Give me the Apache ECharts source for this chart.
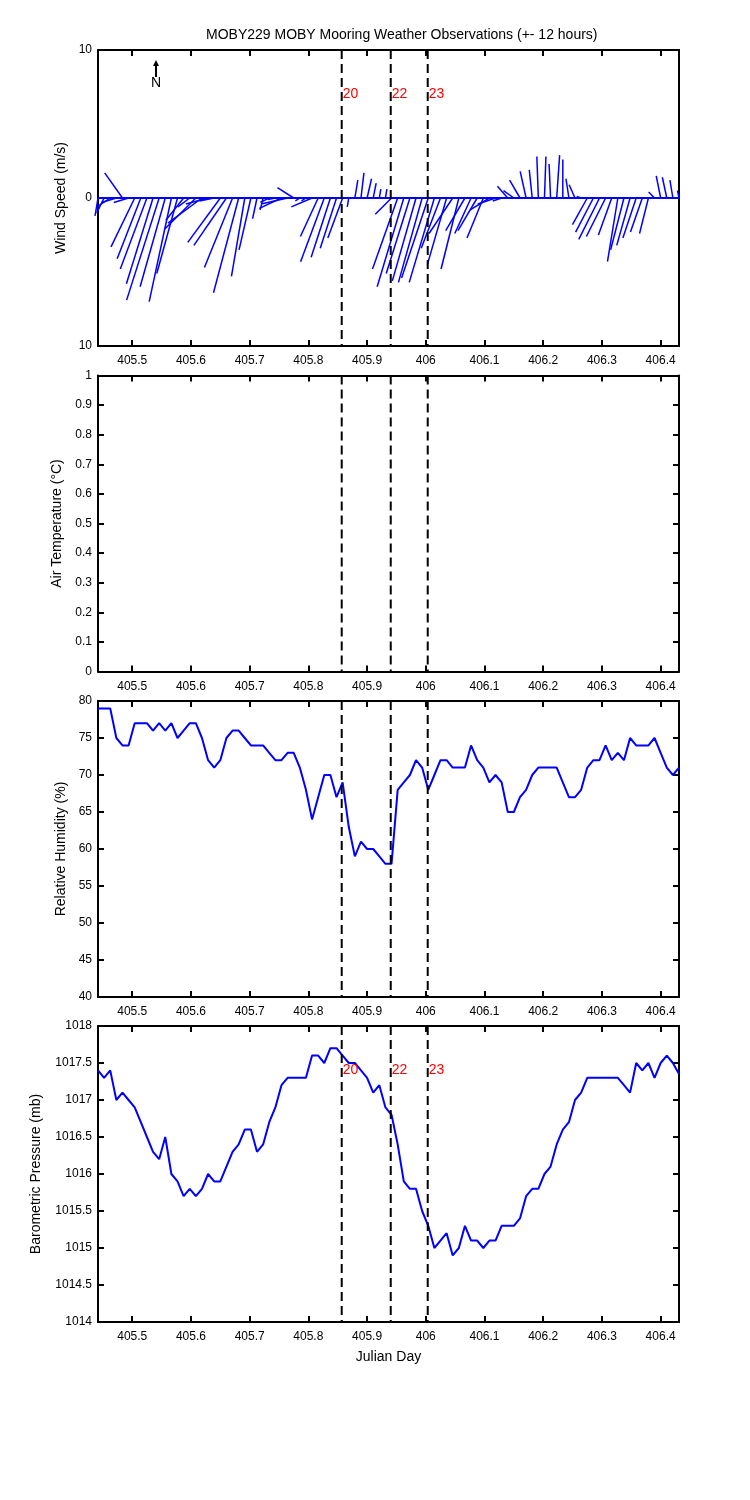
<!DOCTYPE html>
<html>
<head>
<meta charset="utf-8">
<title>MOBY229 weather</title>
<script src="https://cdn.jsdelivr.net/npm/echarts@6/dist/echarts.min.js"></script>
<style>
  html, body { margin: 0; padding: 0; background: #fff; }
  #main { width: 750px; height: 1500px; }
</style>
</head>
<body>
<div id="main"></div>
<script>
// sampling: every 15 minutes over +- 12 hours
const START_DAY = 405.4417
const STEP_DAYS = 1 / 96
const N_SAMPLES = 96

const X_TICKS = [405.5, 405.6, 405.7, 405.8, 405.9, 406, 406.1, 406.2, 406.3, 406.4]

// event markers (vertical dashed lines)
const EVENT_DAYS = [405.8568, 405.9403, 406.0033]
const EVENT_LABELS = ['20', '22', '23']

// wind components (m/s), east and north
const WIND_U = [
  -0.2, -0.5, -0.9, -1.0, -1.2, -1.0, -1.6, -1.6, -1.8, -1.8,
  -2.2, -1.7, -1.5, -1.4, -1.2, -0.8, -2.1, -2.3, -1.5, -1.0,
  -2.2, -2.2, -1.9, -1.7, -0.9, -0.8, -0.3, -0.2, -0.6, -0.5,
  -1.5, -1.8, -1.1, -0.3, -0.3, -1.4, -1.2, -1.6, -1.3, -1.1,
  -1.0, -0.1, 0.2, 0.2, 0.3, 0.2, 0.1, 0.1, -1.1, -1.7,
  -1.8, -1.6, -1.6, -1.6, -1.8, -1.7, -1.3, -1.3, -1.6, -1.2,
  -1.3, -1.1, -1.3, -1.1, -1.3, -1.2, -0.6, -0.7, -0.7, -0.7,
  -0.4, -0.2, -0.1, 0.1, -0.1, 0.2, 0.0, -0.2, -0.4, -0.3,
  -1.0, -1.2, -1.4, -1.3, -0.9, -0.7, -0.9, -0.9, -0.9, -0.8,
  -0.6, -0.4, -0.3, -0.3, -0.2, -0.1
]
const WIND_V = [
  -1.2, -1.0, -0.6, -0.3, 1.7, -0.3, -3.3, -4.1, -4.8, -5.8,
  -6.9, -6.0, -7.0, -5.1, -1.5, -0.6, -2.1, -1.7, -0.4, -0.2,
  -3.0, -3.2, -4.7, -6.4, -5.3, -3.5, -1.4, -0.8, -0.3, -0.1,
  -0.7, -0.4, 0.7, -0.2, -0.2, -0.6, -2.6, -4.3, -4.0, -3.4,
  -2.7, -0.6, 1.2, 1.7, 1.3, 1.0, 0.6, 0.6, -1.1, -4.8,
  -6.0, -5.1, -5.6, -5.7, -5.4, -5.7, -3.4, -4.5, -2.4, -4.8,
  -2.2, -2.4, -2.2, -2.7, -0.8, -0.4, -0.2, 0.8, 0.5, 1.2,
  1.8, 1.9, 2.8, 2.8, 2.3, 2.9, 2.6, 1.3, 0.9, 0.1,
  -1.8, -2.3, -2.8, -2.6, -2.5, -4.3, -3.5, -3.2, -2.7, -2.3,
  -2.4, 0.4, 1.5, 1.4, 1.2, 0.5
]

// relative humidity (%)
const RH = [
  79, 79, 79, 75, 74, 74, 77, 77, 77, 76,
  77, 76, 77, 75, 76, 77, 77, 75, 72, 71,
  72, 75, 76, 76, 75, 74, 74, 74, 73, 72,
  72, 73, 73, 71, 68, 64, 67, 70, 70, 67,
  69, 63, 59, 61, 60, 60, 59, 58, 58, 68,
  69, 70, 72, 71, 68, 70, 72, 72, 71, 71,
  71, 74, 72, 71, 69, 70, 69, 65, 65, 67,
  68, 70, 71, 71, 71, 71, 69, 67, 67, 68,
  71, 72, 72, 74, 72, 73, 72, 75, 74, 74,
  74, 75, 73, 71, 70, 71
]

// barometric pressure (mb)
const PRESSURE = [
  1017.4, 1017.3, 1017.4, 1017.0, 1017.1, 1017.0, 1016.9, 1016.7, 1016.5, 1016.3,
  1016.2, 1016.5, 1016.0, 1015.9, 1015.7, 1015.8, 1015.7, 1015.8, 1016.0, 1015.9,
  1015.9, 1016.1, 1016.3, 1016.4, 1016.6, 1016.6, 1016.3, 1016.4, 1016.7, 1016.9,
  1017.2, 1017.3, 1017.3, 1017.3, 1017.3, 1017.6, 1017.6, 1017.5, 1017.7, 1017.7,
  1017.6, 1017.5, 1017.5, 1017.4, 1017.3, 1017.1, 1017.2, 1016.9, 1016.8, 1016.4,
  1015.9, 1015.8, 1015.8, 1015.5, 1015.3, 1015.0, 1015.1, 1015.2, 1014.9, 1015.0,
  1015.3, 1015.1, 1015.1, 1015.0, 1015.1, 1015.1, 1015.3, 1015.3, 1015.3, 1015.4,
  1015.7, 1015.8, 1015.8, 1016.0, 1016.1, 1016.4, 1016.6, 1016.7, 1017.0, 1017.1,
  1017.3, 1017.3, 1017.3, 1017.3, 1017.3, 1017.3, 1017.2, 1017.1, 1017.5, 1017.4,
  1017.5, 1017.3, 1017.5, 1017.6, 1017.5, 1017.35
]

const TIMES = []
for (let i = 0; i < N_SAMPLES; i++) {
  TIMES.push(START_DAY + i * STEP_DAYS)
}
const T_MIN = TIMES[0]
const T_MAX = TIMES[TIMES.length - 1]

const FONT = 'Liberation Sans, Arial, Helvetica, sans-serif'
const BLUE = '#0000ff'

// four stacked panels
const PANELS = [
  { top: 50, name: 'Wind Speed (m/s)', min: -10, max: 10, interval: 10, gap: 30,
    fmt: v => String(Math.abs(v)) },
  { top: 375.5, name: 'Air Temperature (\u00b0C)', min: 0, max: 1, interval: 0.1, gap: 33,
    fmt: v => String(Math.round(v * 10) / 10) },
  { top: 701, name: 'Relative Humidity (%)', min: 40, max: 80, interval: 5, gap: 30,
    fmt: v => String(v) },
  { top: 1026, name: 'Barometric Pressure (mb)', min: 1014, max: 1018, interval: 0.5, gap: 55,
    fmt: v => String(Math.round(v * 10) / 10) }
]

const axisLine = { show: true, onZero: false, lineStyle: { color: '#000', width: 2 } }
const tickStyle = { color: '#000', width: 2 }

const grids = []
const xAxes = []
const yAxes = []
PANELS.forEach((p, i) => {
  grids.push({ left: 98, top: p.top, width: 581, height: 296 })
  // bottom axis with labels
  xAxes.push({
    type: 'value', gridIndex: i, position: 'bottom', min: T_MIN, max: T_MAX,
    name: i === 3 ? 'Julian Day' : '', nameLocation: 'middle', nameGap: 28,
    nameTextStyle: { color: '#000', fontSize: 14, fontFamily: FONT },
    axisLine: axisLine,
    axisTick: { show: true, inside: true, length: 6, customValues: X_TICKS, lineStyle: tickStyle },
    axisLabel: { show: true, customValues: X_TICKS, color: '#000', fontSize: 12, fontFamily: FONT, margin: 9,
      formatter: v => String(Math.round(v * 10) / 10) },
    splitLine: { show: false }
  })
  // top axis, ticks only
  xAxes.push({
    type: 'value', gridIndex: i, position: 'top', min: T_MIN, max: T_MAX,
    axisLine: axisLine,
    axisTick: { show: true, inside: true, length: 6, customValues: X_TICKS, lineStyle: tickStyle },
    axisLabel: { show: false },
    splitLine: { show: false }
  })
  yAxes.push({
    type: 'value', gridIndex: i, position: 'left', min: p.min, max: p.max, interval: p.interval,
    name: p.name, nameLocation: 'middle', nameGap: p.gap,
    nameTextStyle: { color: '#000', fontSize: 14, fontFamily: FONT },
    axisLine: axisLine,
    axisTick: { show: true, inside: true, length: 6, lineStyle: tickStyle },
    axisLabel: { color: '#000', fontSize: 12, fontFamily: FONT, margin: 6, formatter: p.fmt },
    splitLine: { show: false }
  })
  yAxes.push({
    type: 'value', gridIndex: i, position: 'right', min: p.min, max: p.max, interval: p.interval,
    axisLine: axisLine,
    axisTick: { show: true, inside: true, length: 6, lineStyle: tickStyle },
    axisLabel: { show: false },
    splitLine: { show: false }
  })
})

// dashed event lines, with red labels on the wind and pressure panels
function eventSeries(i, withLabels) {
  return {
    type: 'custom', xAxisIndex: 2 * i, yAxisIndex: 2 * i, silent: true, z: 5,
    data: EVENT_DAYS.map((d, k) => [d, PANELS[i].min, k]),
    renderItem: function(params, api) {
      const cs = params.coordSys
      const x = api.coord([api.value(0), api.value(1)])[0]
      const children = [{
        type: 'line',
        shape: { x1: x, y1: cs.y, x2: x, y2: cs.y + cs.height },
        style: { stroke: '#000', lineWidth: 2, lineDash: [9, 5] }
      }]
      if (withLabels) {
        children.push({
          type: 'text',
          style: { text: EVENT_LABELS[api.value(2)], x: x + 1, y: cs.y + 44,
            fill: '#ff0000', font: '14px ' + FONT, textVerticalAlign: 'middle' }
        })
      }
      return { type: 'group', children: children }
    }
  }
}

const myChart = echarts.init(document.getElementById('main'), null, { renderer: 'canvas' })
myChart.setOption({
  animation: false,
  backgroundColor: '#fff',
  grid: grids,
  xAxis: xAxes,
  yAxis: yAxes,
  graphic: [
    { type: 'text', left: 206, top: 28,
      style: { text: 'MOBY229 MOBY Mooring Weather Observations (+- 12 hours)', fill: '#000', font: '14px ' + FONT } },
    // north arrow
    { type: 'line', shape: { x1: 156, y1: 64, x2: 156, y2: 77 }, style: { stroke: '#000', lineWidth: 2 } },
    { type: 'polygon', shape: { points: [[156, 60], [153, 66], [159, 66]] }, style: { fill: '#000' } },
    { type: 'text', x: 156, y: 83,
      style: { text: 'N', fill: '#000', font: '14px ' + FONT, textAlign: 'center', textVerticalAlign: 'middle' } }
  ],
  series: [
    // feather baseline
    {
      type: 'line', xAxisIndex: 0, yAxisIndex: 0, silent: true, showSymbol: false,
      data: [[T_MIN, 0], [T_MAX, 0]],
      lineStyle: { color: BLUE, width: 2 }
    },
    // wind sticks
    {
      type: 'custom', xAxisIndex: 0, yAxisIndex: 0, silent: true,
      data: TIMES.map((t, i) => [t, WIND_U[i], WIND_V[i]]),
      renderItem: function(params, api) {
        const base = api.coord([api.value(0), 0])
        const pxPerMs = api.size([0, 1])[1]
        return {
          type: 'line',
          shape: { x1: base[0], y1: base[1],
            x2: base[0] + api.value(1) * pxPerMs, y2: base[1] - api.value(2) * pxPerMs },
          style: { stroke: BLUE, lineWidth: 1.5 }
        }
      }
    },
    {
      type: 'line', xAxisIndex: 4, yAxisIndex: 4, silent: true, showSymbol: false,
      data: TIMES.map((t, i) => [t, RH[i]]),
      lineStyle: { color: BLUE, width: 2 }
    },
    {
      type: 'line', xAxisIndex: 6, yAxisIndex: 6, silent: true, showSymbol: false,
      data: TIMES.map((t, i) => [t, PRESSURE[i]]),
      lineStyle: { color: BLUE, width: 2 }
    },
    eventSeries(0, true),
    eventSeries(1, false),
    eventSeries(2, false),
    eventSeries(3, true)
  ]
})
</script>
</body>
</html>
